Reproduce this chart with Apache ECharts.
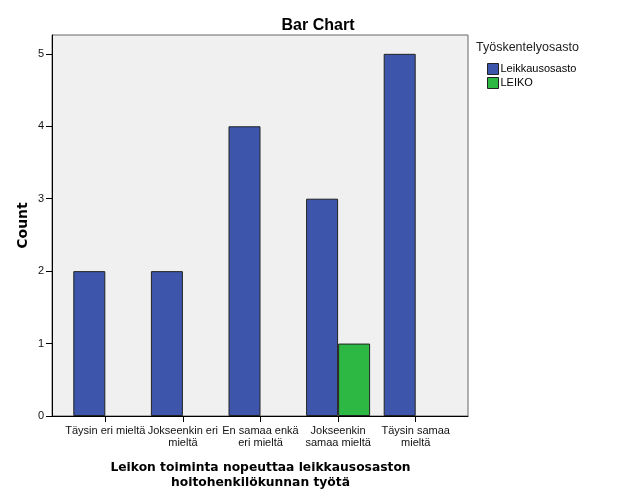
<!DOCTYPE html>
<html>
<head>
<meta charset="utf-8">
<script src="https://cdn.jsdelivr.net/npm/echarts@6/dist/echarts.min.js"></script>
<style>html,body{margin:0;padding:0;background:#fff;}#c{width:626px;height:501px;}</style>
</head>
<body>
<div id="c"></div>
<script>
const categories = ['Täysin eri mieltä', 'Jokseenkin eri\nmieltä', 'En samaa enkä\neri mieltä', 'Jokseenkin\nsamaa mieltä', 'Täysin samaa\nmieltä'];
const seriesNames = ['Leikkausosasto', 'LEIKO'];
const leikkausosasto = [2, 2, 4, 3, 5];
const leiko = [null, null, null, 1, null];
const yTicks = [0, 1, 2, 3, 4, 5];
const yMax = 5.26;

const chart = echarts.init(document.getElementById('c'), null, {renderer: 'canvas'});
const base = 'Liberation Sans, Arial, sans-serif';
const boldFont = 'DejaVu Sans, Verdana, sans-serif';
chart.setOption({
  animation: false,
  backgroundColor: '#ffffff',
  title: {
    text: 'Bar Chart', left: 313, top: 13, textAlign: 'center',
    textStyle: {fontFamily: base, fontSize: 16, fontWeight: 'bold', color: '#000'}
  },
  legend: {
    left: 487, top: 63, padding: 0, orient: 'vertical', itemWidth: 11, itemHeight: 11, itemGap: 2,
    icon: 'rect',
    data: seriesNames,
    textStyle: {fontFamily: base, fontSize: 11, color: '#000', padding: [0,0,0,-3]},
    itemStyle: {borderColor: '#222', borderWidth: 1}
  },
  graphic: [{
    type: 'text', left: 476, top: 41,
    style: {text: 'Työskentelyosasto', font: '12.5px ' + base, fill: '#222'}
  }],
  grid: [
    {left: 52, top: 35, width: 416, height: 381, show: true, backgroundColor: '#f0f0f0', borderColor: '#666', borderWidth: 1},
    {left: 66.5, top: 35, width: 388, height: 381}
  ],
  xAxis: [
    {gridIndex: 0, type: 'value', min: 0, max: 1, axisLine: {show: true, onZero: false, lineStyle: {color: '#000', width: 1}},
     axisTick: {show: false}, axisLabel: {show: false}, splitLine: {show: false}},
    {gridIndex: 1, type: 'category', data: categories,
     axisLine: {show: false}, axisTick: {show: true, alignWithLabel: true, length: 6, lineStyle: {color: '#000'}},
     axisLabel: {fontFamily: base, fontSize: 11, color: '#111', lineHeight: 12, margin: 9, interval: 0},
     name: 'Leikon toiminta nopeuttaa leikkausosaston\nhoitohenkilökunnan työtä',
     nameLocation: 'middle', nameGap: 44,
     nameTextStyle: {fontFamily: boldFont, fontSize: 12.3, fontWeight: 'bold', color: '#000', lineHeight: 15}}
  ],
  yAxis: [
    {gridIndex: 0, type: 'value', min: 0, max: yMax, interval: 1,
     axisLine: {show: true, lineStyle: {color: '#000'}},
     axisTick: {show: true, inside: false, length: 6, lineStyle: {color: '#000'}, customValues: yTicks},
     axisLabel: {fontFamily: base, fontSize: 11, color: '#111', margin: 8, customValues: yTicks},
     splitLine: {show: false},
     name: 'Count', nameLocation: 'middle', nameGap: 22, nameMoveOverlap: false,
     nameTextStyle: {fontFamily: boldFont, fontSize: 14, fontWeight: 'bold', color: '#000'}},
    {gridIndex: 1, type: 'value', min: 0, max: yMax, show: false}
  ],
  series: [
    {name: seriesNames[0], type: 'bar', xAxisIndex: 1, yAxisIndex: 1, data: leikkausosasto,
     barWidth: 32, barGap: '0%', itemStyle: {color: '#3d56ac', borderColor: '#222', borderWidth: 1}},
    {name: seriesNames[1], type: 'bar', xAxisIndex: 1, yAxisIndex: 1, data: leiko,
     barWidth: 32, barGap: '0%', itemStyle: {color: '#2db843', borderColor: '#222', borderWidth: 1}}
  ]
});
</script>
</body>
</html>
